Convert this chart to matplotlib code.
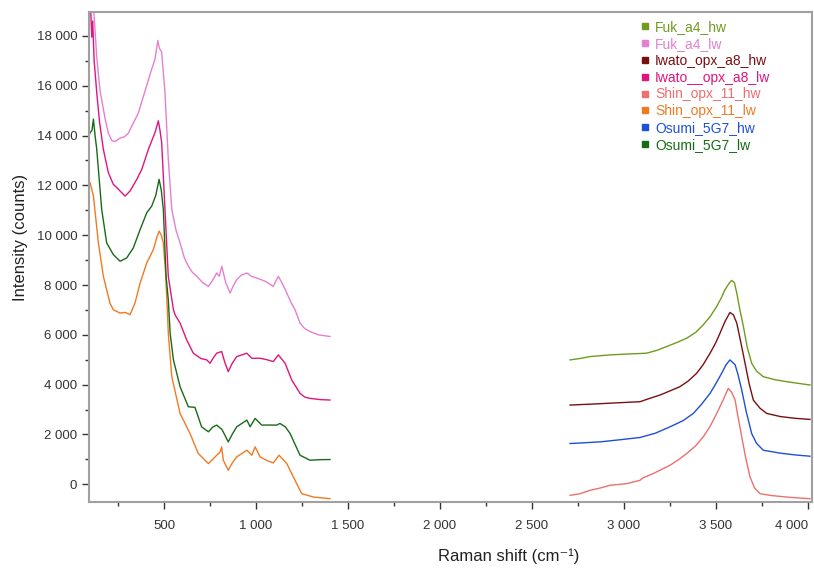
import matplotlib
matplotlib.use("Agg")
import matplotlib.pyplot as plt
from matplotlib.lines import Line2D
from matplotlib.ticker import MultipleLocator, FuncFormatter

plt.rcParams['font.family'] = ['Liberation Sans', 'DejaVu Sans']

# Low wavenumber region (lw)
fuk_lw_x = [92, 115, 125, 134, 152, 179, 197, 216, 234, 261, 285, 306, 333, 360, 397, 433, 451, 466,
            475, 487, 505, 523, 542, 565, 587, 610, 632, 655, 678, 710, 741, 765, 786, 800, 814, 835,
            859, 875, 895, 920, 950, 975, 1004, 1050, 1094, 1110, 1121, 1140, 1167, 1190, 1212, 1239,
            1265, 1293, 1340, 1402]
fuk_lw_y = [19800, 19300, 18200, 17150, 15800, 14700, 14100, 13800, 13760, 13900, 13950, 14100, 14500,
            14900, 15800, 16673, 17076, 17813, 17500, 17345, 15734, 13049, 11035, 10200, 9694, 9100,
            8752, 8500, 8349, 8100, 7946, 8200, 8483, 8350, 8752, 8100, 7680, 7950, 8215, 8400, 8483,
            8350, 8282, 8150, 7946, 8200, 8349, 8100, 7680, 7300, 7008, 6472, 6250, 6134, 6000, 5933]

iwato_lw_x = [92, 100, 107, 112, 120, 134, 150, 170, 197, 224, 245, 261, 288, 315, 352, 379, 415, 451,
              469, 478, 487, 505, 523, 551, 560, 587, 623, 659, 700, 732, 750, 770, 786, 813, 830, 849,
              870, 895, 950, 977, 1022, 1060, 1094, 1121, 1158, 1194, 1239, 1265, 1293, 1350, 1402]
iwato_lw_y = [19600, 19300, 17950, 18600, 17000, 15734, 14500, 13451, 12512, 12042, 11900, 11773, 11571,
              11773, 12243, 12646, 13451, 14124, 14594, 14200, 13720, 11035, 8349, 7008, 6800, 6472,
              5800, 5263, 5050, 4994, 4860, 5100, 5263, 5330, 4900, 4525, 4850, 5128, 5263, 5060, 5061,
              5000, 4927, 5195, 4860, 4188, 3652, 3500, 3450, 3400, 3383]

osumi_lw_x = [92, 98, 108, 116, 125, 134, 161, 188, 224, 261, 297, 333, 370, 406, 433, 455, 473, 485,
              496, 511, 523, 533, 551, 587, 632, 668, 704, 741, 765, 786, 815, 849, 870, 895, 950, 968,
              995, 1031, 1070, 1112, 1130, 1160, 1185, 1239, 1293, 1350, 1402]
osumi_lw_y = [14000, 14124, 14200, 14660, 14000, 13451, 11035, 9694, 9223, 8954, 9088, 9492, 10229,
              10901, 11169, 11600, 12243, 11800, 11035, 8349, 7410, 6070, 4994, 3919, 3113, 3090, 2308,
              2107, 2300, 2376, 2200, 1704, 2000, 2308, 2577, 2310, 2646, 2376, 2380, 2376, 2443, 2300,
              2040, 1168, 967, 990, 994]

shin_lw_x = [92, 98, 116, 143, 170, 206, 224, 261, 290, 315, 342, 370, 406, 442, 460, 473, 485, 496,
             508, 518, 523, 542, 587, 641, 686, 741, 765, 786, 805, 813, 822, 849, 870, 895, 950, 977,
             995, 1022, 1060, 1094, 1125, 1167, 1212, 1248, 1312, 1402]
shin_lw_y = [12000, 12109, 11571, 9694, 8349, 7277, 7008, 6875, 6900, 6806, 7277, 8083, 8889, 9424,
             9900, 10162, 10000, 9694, 8500, 7008, 6070, 4323, 2846, 2040, 1235, 833, 1000, 1168, 1300,
             1504, 968, 564, 850, 1101, 1369, 1168, 1504, 1100, 950, 860, 1168, 833, 161, -375, -510, -577]

# High wavenumber region (hw)
fuk_hw_x = [2707, 2760, 2815, 2924, 3020, 3123, 3180, 3232, 3290, 3341, 3390, 3431, 3470, 3504, 3530,
            3549, 3570, 3585, 3600, 3613, 3630, 3649, 3670, 3694, 3720, 3757, 3820, 3884, 3950, 4011]
fuk_hw_y = [4994, 5050, 5128, 5195, 5230, 5263, 5380, 5531, 5700, 5867, 6100, 6404, 6750, 7141, 7500,
            7813, 8050, 8188, 8100, 7680, 7000, 6337, 5500, 4861, 4550, 4321, 4200, 4120, 4050, 3987]

iwato_hw_x = [2707, 2833, 2960, 3087, 3140, 3196, 3250, 3304, 3350, 3395, 3430, 3468, 3500, 3522, 3550,
              3576, 3595, 3613, 3635, 3658, 3680, 3703, 3740, 3776, 3850, 3930, 4011]
iwato_hw_y = [3182, 3222, 3270, 3316, 3450, 3584, 3750, 3919, 4150, 4458, 4800, 5263, 5700, 6069, 6550,
              6899, 6800, 6472, 5700, 4861, 4050, 3383, 3050, 2846, 2720, 2650, 2605]

osumi_hw_x = [2707, 2790, 2870, 2980, 3087, 3170, 3250, 3320, 3377, 3420, 3468, 3500, 3531, 3555, 3576,
              3604, 3620, 3640, 3665, 3694, 3720, 3757, 3850, 3930, 4011]
osumi_hw_y = [1638, 1670, 1704, 1790, 1880, 2050, 2308, 2550, 2846, 3200, 3652, 4050, 4458, 4800, 4994,
              4800, 4400, 3786, 2900, 2040, 1650, 1369, 1250, 1180, 1128]

shin_hw_x = [2707, 2760, 2815, 2870, 2924, 3015, 3087, 3100, 3159, 3205, 3250, 3295, 3341, 3390, 3431,
             3470, 3504, 3540, 3567, 3585, 3604, 3620, 3640, 3662, 3685, 3710, 3739, 3800, 3884, 3950, 4011]
shin_hw_y = [-443, -380, -242, -150, -40, 27, 161, 250, 431, 600, 765, 980, 1236, 1550, 1905, 2350,
             2846, 3400, 3853, 3700, 3380, 2700, 1905, 1050, 295, -150, -375, -450, -510, -550, -577]

labels = ["Fuk_a4_hw", "Fuk_a4_lw", "Iwato_opx_a8_hw", "Iwato__opx_a8_lw",
          "Shin_opx_11_hw", "Shin_opx_11_lw", "Osumi_5G7_hw", "Osumi_5G7_lw"]
colors = ["#6f9c1e", "#e67fd2", "#7a0f12", "#e0147f",
          "#ee6f6f", "#f07a22", "#1f4fd6", "#176b17"]
series = [(fuk_hw_x, fuk_hw_y), (fuk_lw_x, fuk_lw_y), (iwato_hw_x, iwato_hw_y), (iwato_lw_x, iwato_lw_y),
          (shin_hw_x, shin_hw_y), (shin_lw_x, shin_lw_y), (osumi_hw_x, osumi_hw_y), (osumi_lw_x, osumi_lw_y)]

fig = plt.figure(figsize=(8.14, 5.74), dpi=100)
ax = fig.add_axes([89 / 814, 1 - 502 / 574, 723 / 814, 490 / 574])

for (x, y), c in zip(series, colors):
    ax.plot(x, y, color=c, lw=1.0)

ax.set_xlim(92, 4022)
ax.set_ylim(-710, 18960)

ax.xaxis.set_major_locator(MultipleLocator(500))
ax.xaxis.set_minor_locator(MultipleLocator(250))
ax.yaxis.set_major_locator(MultipleLocator(2000))
ax.yaxis.set_minor_locator(MultipleLocator(1000))
fmt = FuncFormatter(lambda v, p: f"{int(v):,}".replace(",", " "))
ax.xaxis.set_major_formatter(fmt)
ax.yaxis.set_major_formatter(fmt)

for s in ax.spines.values():
    s.set_color("#a0a0a0")
    s.set_linewidth(1.5)

ax.tick_params(which="both", colors="#333333", labelsize=9.5, direction="out")
ax.tick_params(which="major", length=5, width=1)
ax.tick_params(which="minor", length=3, width=1)
ax.tick_params(axis="x", which="major", pad=8)

# last x tick label sits flush with the right edge, like the original
fig.canvas.draw()
for t in ax.get_xticklabels():
    if t.get_text() == "4 000":
        t.set_horizontalalignment("right")
        t.set_x(4012)

ax.set_xlabel("Raman shift (cm⁻¹)", fontsize=12, color="#222222")
ax.set_ylabel("Intensity (counts)", fontsize=12, color="#222222")
ax.xaxis.set_label_coords(0.58, -0.095)
ax.yaxis.set_label_coords(-0.085, 0.54)

handles = [Line2D([], [], marker="s", linestyle="none", color=c, markersize=4) for c in colors]
leg = ax.legend(handles, labels, loc="upper left", bbox_to_anchor=(0.752, 1.0),
                frameon=False, fontsize=10, handlelength=0.6, handletextpad=0.4,
                labelspacing=0.2, borderaxespad=0.2, labelcolor=colors)

fig.savefig("out.png", dpi=100)
